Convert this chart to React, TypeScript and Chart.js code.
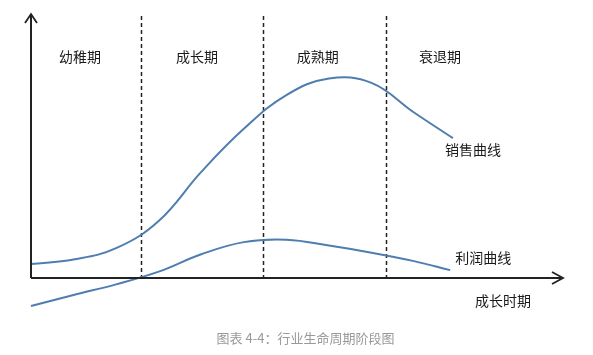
import React, { useEffect, useRef } from "react";
import { Chart, registerables } from "chart.js";

Chart.register(...registerables);

// Time (x) and value (y)
const salesTime = [0, 8, 16, 24, 32, 40, 48, 56, 64, 72, 79.3];
const salesValues = [5.3, 7.0, 11.3, 21.6, 40.2, 56.5, 69.3, 75.6, 73.9, 62.7, 53];

const profitTime = [0, 8, 16, 24, 32, 40, 48, 56, 64, 72, 78.8];
const profitValues = [-10.6, -6.4, -2.4, 2.4, 9.0, 13.6, 14.5, 12.3, 9.6, 6.4, 3.0];

const phaseBoundaries = [20.7, 43.6, 66.7];
const phaseNames = ["幼稚期", "成长期", "成熟期", "衰退期"];
const phaseLabelX = [9.2, 31.2, 53.9, 76.9];
const phaseLabelY = 84;

const curveLabels = ["销售曲线", "利润曲线", "成长时期"];
const curveLabelX = [83.1, 85, 88.7];
const curveLabelY = [48.5, 7.6, -8.7];

const caption = "图表 4-4：行业生命周期阶段图";

const X_MIN = 0, X_MAX = 100, Y_MIN = -12, Y_MAX = 100;

const CJK = '"Noto Sans CJK SC", "Noto Sans", sans-serif';

const decorPlugin = {
  id: "decor",
  beforeDatasetsDraw(chart: any) {
    const { ctx, scales } = chart;
    const xs = scales.x, ys = scales.y;
    ctx.save();
    ctx.strokeStyle = "#222";
    ctx.lineWidth = 1.5;
    ctx.setLineDash([4, 3]);
    phaseBoundaries.forEach((b) => {
      const px = Math.round(xs.getPixelForValue(b)) + 0.5;
      ctx.beginPath();
      ctx.moveTo(px, ys.getPixelForValue(99.2));
      ctx.lineTo(px, ys.getPixelForValue(0));
      ctx.stroke();
    });
    ctx.restore();
  },
  afterDatasetsDraw(chart: any) {
    const { ctx, scales } = chart;
    const xs = scales.x, ys = scales.y;
    ctx.save();
    const ox = xs.getPixelForValue(0);
    const oy = ys.getPixelForValue(0);
    const top = ys.getPixelForValue(Y_MAX);
    const right = xs.getPixelForValue(X_MAX);
    ctx.strokeStyle = "#222";
    ctx.lineWidth = 2;
    ctx.setLineDash([]);
    ctx.beginPath();
    ctx.moveTo(ox, oy);
    ctx.lineTo(ox, top);
    ctx.moveTo(ox, oy);
    ctx.lineTo(right, oy);
    ctx.stroke();
    ctx.lineWidth = 1.8;
    ctx.beginPath();
    ctx.moveTo(ox - 6, top + 9);
    ctx.lineTo(ox, top);
    ctx.lineTo(ox + 6, top + 9);
    ctx.moveTo(right - 11, oy - 6);
    ctx.lineTo(right, oy);
    ctx.lineTo(right - 11, oy + 6);
    ctx.stroke();

    ctx.fillStyle = "#1a1a1a";
    ctx.textAlign = "center";
    ctx.textBaseline = "middle";
    ctx.font = `14px ${CJK}`;
    phaseNames.forEach((n, i) => {
      ctx.fillText(n, xs.getPixelForValue(phaseLabelX[i]), ys.getPixelForValue(phaseLabelY));
    });
    curveLabels.forEach((n, i) => {
      ctx.fillText(n, xs.getPixelForValue(curveLabelX[i]), ys.getPixelForValue(curveLabelY[i]));
    });

    ctx.fillStyle = "#999";
    ctx.font = `13px ${CJK}`;
    ctx.fillText(caption, chart.width / 2 + 9, chart.height - 17);
    ctx.restore();
  },
};

export default function App() {
  const ref = useRef<HTMLCanvasElement>(null);
  useEffect(() => {
    if (!ref.current) return;
    const chart = new Chart(ref.current, {
      type: "line",
      data: {
        datasets: [
          {
            label: "销售曲线",
            data: salesTime.map((t, i) => ({ x: t, y: salesValues[i] })),
            borderColor: "#4F7DB0",
            borderWidth: 2,
            pointRadius: 0,
            tension: 0.4,
            fill: false,
            clip: false as any,
          },
          {
            label: "利润曲线",
            data: profitTime.map((t, i) => ({ x: t, y: profitValues[i] })),
            borderColor: "#4F7DB0",
            borderWidth: 2,
            pointRadius: 0,
            tension: 0.4,
            fill: false,
            clip: false as any,
          },
        ],
      },
      options: {
        animation: false,
        responsive: false,
        layout: { padding: { left: 31, right: 30, top: 14, bottom: 45.3 } },
        scales: {
          x: { type: "linear", min: X_MIN, max: X_MAX, display: false },
          y: { type: "linear", min: Y_MIN, max: Y_MAX, display: false },
        },
        plugins: {
          legend: { display: false },
          tooltip: { enabled: false },
          title: { display: false },
        },
      },
      plugins: [decorPlugin],
    });
    return () => chart.destroy();
  }, []);
  return (
    <div style={{ position: "absolute", left: 0, top: 0, width: 593, height: 355, background: "#fff" }}>
      <canvas ref={ref} width={593} height={355} style={{ display: "block" }} />
    </div>
  );
}
